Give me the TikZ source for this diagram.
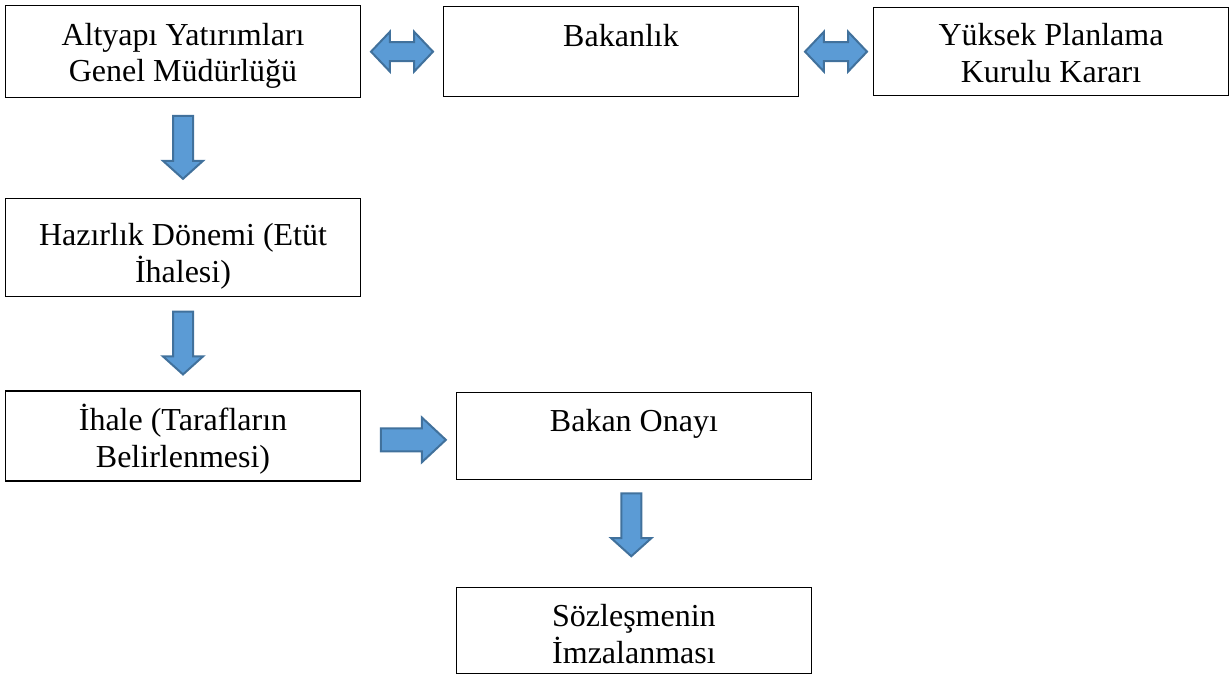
\documentclass[tikz,border=0pt]{standalone}
\usepackage{fontspec}
\setmainfont{Liberation Serif}
\usetikzlibrary{positioning,calc,shapes.arrows}

\definecolor{arrowfill}{HTML}{5B9BD5}
\definecolor{arrowline}{HTML}{41719C}

\begin{document}
\begin{tikzpicture}[
    node distance=37.5pt and 30.75pt,
    block/.style={draw,line width=0.5pt,minimum width=133pt,minimum height=33.75pt,inner sep=0pt},
    blocktext/.style={anchor=base,yshift=-15pt,align=center,font=\fontsize{12pt}{13.8pt}\selectfont,inner sep=0pt},
    blocktwo/.style={blocktext,yshift=-13.8pt},
    flowarrow/.style={single arrow,draw=arrowline,fill=arrowfill,line width=0.75pt,inner sep=3.375pt,minimum height=23.6pt,single arrow head extend=3.75pt,single arrow tip angle=96},
    botharrow/.style={double arrow,draw=arrowline,fill=arrowfill,line width=0.75pt,inner sep=3.2pt,minimum height=23.25pt,double arrow head extend=3.9pt,double arrow tip angle=93}
]
\useasboundingbox (0,0) rectangle (462pt,-253.125pt);
\node[block,anchor=north west,minimum height=34.5pt,label={[blocktwo]north:Altyapı Yatırımları\\Genel Müdürlüğü}] (genel) at (1.875pt,-1.875pt) {};
\node[block,right=30.75pt of genel,label={[blocktext]north:Bakanlık}] (bakanlik) {};
\node[block,right=27.75pt of bakanlik,minimum height=33pt,label={[blocktwo,yshift=0.5pt]north:Yüksek Planlama\\Kurulu Kararı}] (ypk) {};
\node[block,below=37.2pt of genel,minimum height=36.75pt,label={[blocktwo,yshift=-3pt]north:Hazırlık Dönemi (Etüt\\İhalesi)}] (hazirlik) {};
\node[block,below=35pt of hazirlik,label={[blocktwo]north:İhale (Tarafların\\Belirlenmesi)}] (ihale) {};
\node[block,right=35.6pt of ihale,minimum height=32.6pt,label={[blocktext]north:Bakan Onayı}] (onay) {};
\node[block,below=40pt of onay,minimum height=32.4pt,label={[blocktwo]north:Sözleşmenin\\İmzalanması}] (sozlesme) {};
% blok oklar
\node[botharrow] (ok1) at ($(genel.east)!0.5!(bakanlik.west)$) {};
\node[botharrow] (ok2) at ($(bakanlik.east)!0.5!(ypk.west)$) {};
\node[flowarrow,rotate=-90] (ok3) at ($(genel.south)!0.5!(hazirlik.north)+(0,1.9pt)$) {};
\node[flowarrow,rotate=-90] (ok4) at ($(hazirlik.south)!0.5!(ihale.north)+(0,1.9pt)$) {};
\node[flowarrow,inner sep=3.95pt,minimum height=24.4pt,single arrow head extend=4.1pt,single arrow tip angle=86] (ok5) at ($(ihale.east)!0.5!(onay.west)+(-0.5pt,-1.5pt)$) {};
\node[flowarrow,rotate=-90] (ok6) at ($(onay.south)!0.5!(sozlesme.north)+(-1pt,4.9pt)$) {};
\end{tikzpicture}
\end{document}
